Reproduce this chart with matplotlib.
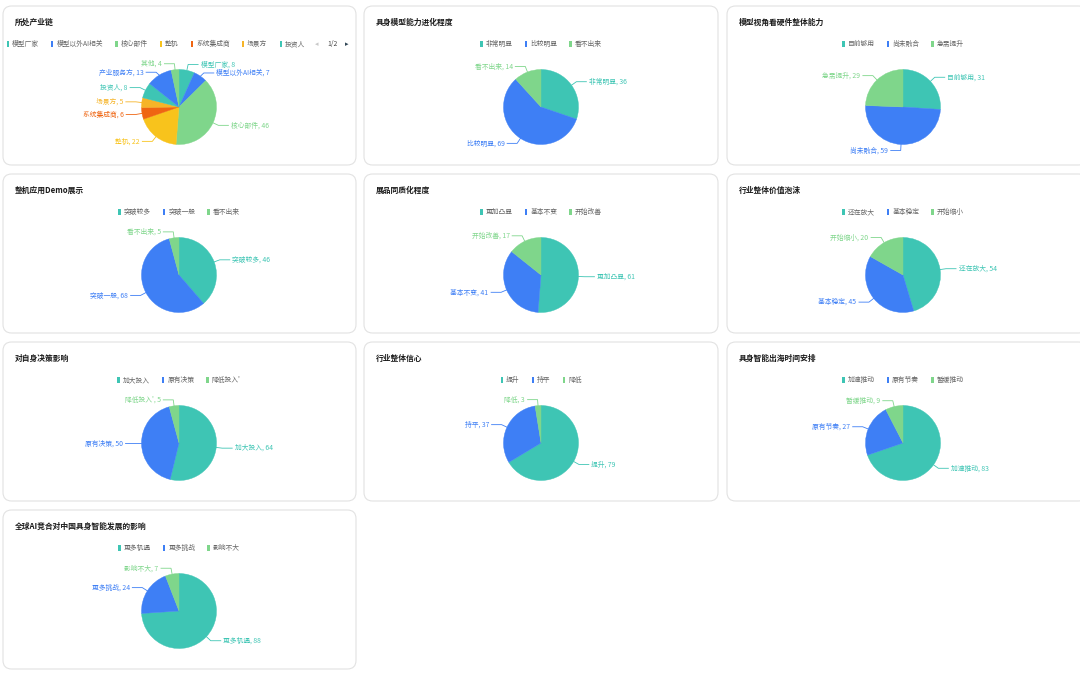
import numpy as np
import matplotlib
matplotlib.use("Agg")
import matplotlib.pyplot as plt
from matplotlib.patches import FancyBboxPatch, Rectangle

plt.rcParams['font.family'] = ['Noto Sans CJK SC', 'DejaVu Sans']

# ---------------- data ----------------
titles = [
    "所处产业链", "具身模型能力进化程度", "模型视角看硬件整体能力",
    "整机应用Demo展示", "展品同质化程度", "行业整体价值泡沫",
    "对自身决策影响", "行业整体信心", "具身智能出海时间安排",
    "全球AI竞合对中国具身智能发展的影响",
]
p1_labels = ["模型厂家", "模型以外AI相关", "核心部件", "整机", "系统集成商", "场景方", "投资人", "产业服务方", "其他"]
p1_values = [8, 7, 46, 22, 6, 5, 8, 13, 4]
p2_labels = ["非常明显", "比较明显", "看不出来"]
p2_values = [36, 69, 14]
p3_labels = ["目前够用", "尚未融合", "急需提升"]
p3_values = [31, 59, 29]
p4_labels = ["突破较多", "突破一般", "看不出来"]
p4_values = [46, 68, 5]
p5_labels = ["更加凸显", "基本不变", "开始改善"]
p5_values = [61, 41, 17]
p6_labels = ["还在放大", "基本稳定", "开始缩小"]
p6_values = [54, 45, 20]
p7_labels = ["加大投入", "原有决策", "降低投入'"]
p7_values = [64, 50, 5]
p8_labels = ["提升", "持平", "降低"]
p8_values = [79, 37, 3]
p9_labels = ["加速推动", "原有节奏", "暂缓推动"]
p9_values = [83, 27, 9]
p10_labels = ["更多机遇", "更多挑战", "影响不大"]
p10_values = [88, 24, 7]

all_labels = [p1_labels, p2_labels, p3_labels, p4_labels, p5_labels,
              p6_labels, p7_labels, p8_labels, p9_labels, p10_labels]
all_values = [p1_values, p2_values, p3_values, p4_values, p5_values,
              p6_values, p7_values, p8_values, p9_values, p10_values]

palette = ["#3ec5b4", "#3e7ff5", "#7fd68b", "#f8c31c", "#ef6512", "#f6b428"]

# ---------------- layout ----------------
W, H = 1080, 679
fig = plt.figure(figsize=(W / 100, H / 100), dpi=100)
fig.patch.set_facecolor("white")

def fx(x):
    return x / W

def fy(y):
    return 1 - y / H

col_left = [3, 364, 727]
col_w = [353, 354, 360]
col_cx = [179, 541, 903]
row_top = [6, 174, 342, 510]
card_h = 159
R = 37.5
FS_T = 5.6
FS_L = 4.9
LEG_C = "#666666"

renderer = fig.canvas.get_renderer()

def text_width(s, fs):
    t = fig.text(0, 0, s, fontsize=fs)
    w = t.get_window_extent(renderer=renderer).width
    t.remove()
    return w

def legend_items(labels, colors, x_start, y):
    x = x_start
    for lab, c in zip(labels, colors):
        fig.patches.append(Rectangle((fx(x), fy(y + 3)), 2.5 / W, 6 / H,
                                     transform=fig.transFigure, facecolor=c,
                                     edgecolor="none", zorder=2))
        fig.text(fx(x + 5.5), fy(y), lab, fontsize=FS_L, color=LEG_C,
                 ha="left", va="center")
        x += 5.5 + text_width(lab, FS_L) + 12
    return x

for i in range(10):
    r, c = divmod(i, 3)
    top = row_top[r]
    left = col_left[c]
    cx = col_cx[c]
    cy = top + 101
    labels = all_labels[i]
    values = all_values[i]
    colors = [palette[k % len(palette)] for k in range(len(values))]

    # card
    fig.patches.append(FancyBboxPatch((fx(left), fy(top + card_h)), col_w[c] / W, card_h / H,
                                      boxstyle="round,pad=0,rounding_size=0.008",
                                      transform=fig.transFigure, facecolor="white",
                                      edgecolor="#e2e2e2", linewidth=0.8,
                                      mutation_aspect=W / H, zorder=-5))
    # title
    fig.text(fx(left + 12), fy(top + 16.5), titles[i], fontsize=FS_T,
             fontweight="bold", color="#1a1a1a", ha="left", va="center")

    # legend
    ly = top + 38
    if i == 0:
        nshow = 7
        legend_items(labels[:nshow], colors[:nshow], left + 3.5, ly)
        fig.text(fx(317), fy(ly), "◂", fontsize=5, color="#c8c8c8",
                 ha="center", va="center", family="DejaVu Sans")
        fig.text(fx(332.5), fy(ly), "1/2", fontsize=FS_L, color="#444444",
                 ha="center", va="center")
        fig.text(fx(347), fy(ly), "▸", fontsize=5, color="#2f4554",
                 ha="center", va="center", family="DejaVu Sans")
    else:
        total = 0
        for lab in labels:
            total += 5.5 + text_width(lab, FS_L) + 12
        total -= 12
        legend_items(labels, colors, cx - total / 2, ly)

    # pie
    ax = fig.add_axes([fx(cx - R), fy(cy + R), 2 * R / W, 2 * R / H])
    ax.set_zorder(3)
    ax.set_xlim(-1, 1)
    ax.set_ylim(-1, 1)
    ax.axis("off")
    wedges, _ = ax.pie(values, colors=colors, startangle=90, counterclock=False,
                       radius=1, wedgeprops=dict(linewidth=0.3))
    ax.set_xlim(-1, 1)
    ax.set_ylim(-1, 1)
    for w_, col in zip(wedges, colors):
        w_.set_edgecolor(col)

    # labels with leader lines (pixel units relative to center, y down)
    len1, len2, gap = 6.0, 10.0, 2.5
    items = []
    for w_, lab, v, col in zip(wedges, labels, values, colors):
        mid = np.deg2rad((w_.theta1 + w_.theta2) / 2)
        ux, uy = np.cos(mid), np.sin(mid)
        p0 = (R * ux, -R * uy)
        p1 = ((R + len1) * ux, -(R + len1) * uy)
        items.append(dict(p0=p0, p1=list(p1), lab=f"{lab}, {v}", col=col,
                          right=ux >= 0))
    min_gap = 8.5
    for side in (True, False):
        group = sorted([it for it in items if it["right"] == side], key=lambda d: d["p1"][1])
        for k in range(1, len(group)):
            if group[k]["p1"][1] - group[k - 1]["p1"][1] < min_gap:
                group[k]["p1"][1] = group[k - 1]["p1"][1] + min_gap
    for it in items:
        s = 1 if it["right"] else -1
        x0, y0 = it["p0"]
        x1, y1 = it["p1"]
        x2 = x1 + s * len2
        ax.plot([x0 / R, x1 / R, x2 / R], [-y0 / R, -y1 / R, -y1 / R],
                color=it["col"], lw=0.6, clip_on=False)
        ax.text((x2 + s * gap) / R, -y1 / R, it["lab"], fontsize=FS_L,
                color=it["col"], ha="left" if it["right"] else "right",
                va="center", clip_on=False)

fig.savefig("out.png", dpi=100, facecolor="white")
